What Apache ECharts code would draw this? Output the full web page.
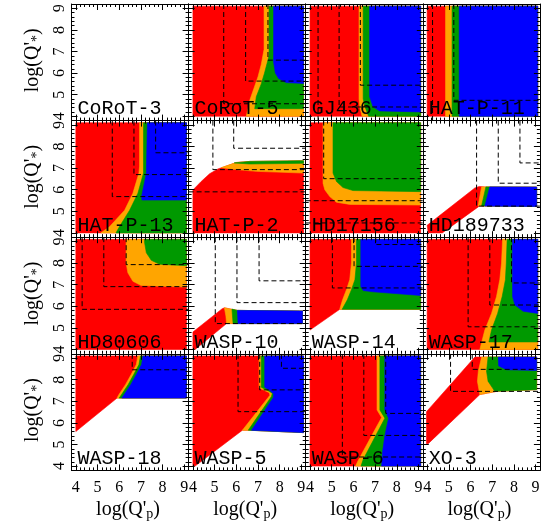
<!DOCTYPE html>
<html><head><meta charset="utf-8">
<script src="https://cdn.jsdelivr.net/npm/echarts@6/dist/echarts.min.js"></script>
<style>html,body{margin:0;padding:0;background:#fff}#c{width:552px;height:529px}</style>
</head><body><div id="c"></div>
<script>
// ---------------- data ----------------
const panelNames = ['CoRoT-3','CoRoT-5','GJ436','HAT-P-11','HAT-P-13','HAT-P-2','HD17156','HD189733',
                    'HD80606','WASP-10','WASP-14','WASP-17','WASP-18','WASP-5','WASP-6','XO-3'];
const axisTicks = [4, 5, 6, 7, 8, 9];
const xTitle = "log(Q'{s|p})";
const yTitle = "log(Q'{s|*})";

// outer boundary of every coloured area (log Q'p, log Q'*)
const redRegions = [
  [],
  [[4,4],[4,9.1],[9.1,9.1],[9.1,4]],
  [[4,4],[4,9.1],[9.1,9.1],[9.1,4]],
  [[4,4],[4,9.1],[9.1,9.1],[9.1,4]],
  [[4,4],[4,9.1],[9.1,9.1],[9.1,4]],
  [[4,4],[4,5.99],[4.38,6.38],[4.77,6.74],[5.15,6.96],[5.38,7.04],[5.69,7.15],[6.0,7.26],[6.62,7.31],[9.1,7.34],[9.1,4]],
  [[4,4],[4,9.1],[9.1,9.1],[9.1,4]],
  [[4.05,4],[4.7,4],[6.42,5.25],[9.05,5.22],[9.05,6.12],[6.65,6.13],[6.4,6.15],[6.2,6.08],[4.0,4.35]],
  [[4,4],[4,9.1],[9.1,9.1],[9.1,4]],
  [[4,4],[4.1,4],[5.55,5.2],[9.05,5.2],[9.05,5.78],[6.05,5.81],[5.6,5.9],[5.46,5.93],[5.35,5.89],[4,4.81]],
  [[4,9.1],[9.1,9.1],[9.1,5.86],[5.37,5.86],[4,4.9]],
  [[4,4],[4,9.1],[9.1,9.1],[9.1,4]],
  [[4,9.1],[9.1,9.1],[9.1,7.15],[5.9,7.15],[4,5.6]],
  [[4,9.1],[9.1,9.1],[9.1,5.55],[6.6,5.66],[6.28,5.66],[4.1,4],[4,4]],
  [[4,4],[4,9.1],[9.1,9.1],[9.1,4]],
  [[3.97,6.52],[6.2,9.05],[9.05,9.05],[9.05,7.54],[7.2,7.46],[6.43,7.31],[4.05,5.04],[3.97,5.04]]
];
// orange + green + blue together
const orangeRegions = [
  [],
  [[7.28,9.1],[7.28,7.1],[7.15,6.4],[7.0,5.83],[6.62,4.74],[6.46,4],[9.1,4],[9.1,9.1]],
  [[6.26,9.1],[6.26,4.8],[6.3,4.4],[6.4,4],[9.1,4],[9.1,9.1]],
  [[4.85,9.1],[4.85,4],[9.1,4],[9.1,9.1]],
  [[6.94,9.1],[6.94,7.09],[6.91,6.77],[6.63,5.83],[6.25,5.05],[5.54,4.27],[5.15,4],[9.1,4],[9.1,9.1]],
  [[5.3,7.02],[5.69,7.15],[6.0,7.26],[6.62,7.31],[9.1,7.34],[9.1,6.77],[6.92,6.85],[6.0,6.93]],
  [[4.6,9.1],[4.6,6.3],[4.68,6.0],[4.91,5.68],[5.22,5.42],[5.83,5.32],[9.1,5.29],[9.1,9.1]],
  [[6.51,6.13],[6.35,5.25],[9.05,5.22],[9.05,6.12]],
  [[6.32,9.1],[6.32,8.0],[6.4,7.55],[6.63,7.16],[7.01,6.96],[9.1,6.89],[9.1,9.1]],
  [[5.45,5.93],[5.6,5.9],[6.05,5.81],[9.05,5.78],[9.05,5.2],[5.55,5.2],[5.52,5.55]],
  [[5.91,9.1],[5.91,8.0],[5.83,7.23],[5.68,6.77],[5.5,6.3],[5.37,5.86],[9.1,5.86],[9.1,9.1]],
  [[7.48,9.1],[7.43,8.0],[7.35,7.23],[7.2,6.45],[6.97,5.67],[6.66,4.9],[6.43,4],[9.1,4],[9.1,9.1]],
  [[6.86,9.1],[6.79,8.7],[6.55,8.24],[6.29,7.77],[5.98,7.3],[5.9,7.15],[9.1,7.15],[9.1,9.1]],
  [[7.05,9.1],[7.05,7.62],[7.3,7.5],[7.52,7.4],[7.55,7.28],[6.28,5.66],[6.6,5.66],[9.1,5.55],[9.1,9.1]],
  [[7.09,9.1],[7.09,6.6],[7.3,6.25],[6.22,4.26],[6.1,4],[9.1,4],[9.1,9.1]],
  [[6.51,9.05],[6.36,8.39],[6.32,7.92],[6.43,7.31],[7.2,7.46],[9.05,7.54],[9.05,9.05]]
];
// green + blue together
const greenRegions = [
  [],
  [[7.51,9.1],[7.51,6.8],[7.3,6.0],[7.15,5.5],[6.92,4.9],[6.85,4.35],[9.1,4.35],[9.1,9.1]],
  [[6.45,9.1],[6.45,4.8],[6.55,4.4],[6.7,4],[9.1,4],[9.1,9.1]],
  [[5.15,9.1],[5.15,4],[9.1,4],[9.1,9.1]],
  [[7.12,9.1],[7.12,6.77],[6.86,5.83],[6.48,5.05],[6.0,4.27],[5.85,4],[9.1,4],[9.1,9.1]],
  [[5.9,7.24],[6.62,7.31],[9.1,7.34],[9.1,7.22],[6.6,7.19]],
  [[5.06,9.1],[5.06,6.77],[5.22,6.38],[5.52,6.1],[5.98,5.96],[9.1,5.91],[9.1,9.1]],
  [[6.71,6.13],[6.51,5.25],[9.05,5.22],[9.05,6.12]],
  [[7.17,9.1],[7.17,8.95],[7.25,8.48],[7.48,8.13],[7.86,7.95],[9.1,7.88],[9.1,9.1]],
  [[5.8,5.87],[6.05,5.81],[9.05,5.78],[9.05,5.2],[5.85,5.2]],
  [[6.14,9.1],[6.14,8.0],[6.07,7.23],[5.91,6.77],[5.72,6.3],[5.48,5.86],[9.1,5.86],[9.1,9.1]],
  [[7.69,9.1],[7.65,8.0],[7.61,7.23],[7.46,6.45],[7.25,5.67],[6.97,4.9],[6.85,4.35],[9.1,4.35],[9.1,9.1]],
  [[6.98,9.1],[6.91,8.7],[6.67,8.24],[6.41,7.77],[6.1,7.3],[6.0,7.15],[9.1,7.15],[9.1,9.1]],
  [[7.15,9.1],[7.15,7.65],[7.45,7.5],[7.66,7.37],[7.62,7.22],[6.55,5.66],[9.1,5.55],[9.1,9.1]],
  [[7.22,9.1],[7.22,6.6],[7.45,6.22],[6.45,4.3],[6.35,4],[9.1,4],[9.1,9.1]],
  [[6.81,9.05],[6.74,8.39],[6.81,7.93],[7.12,7.46],[9.05,7.54],[9.05,9.05]]
];
const blueRegions = [
  [],
  [[7.72,9.1],[7.72,6.5],[7.8,6.0],[7.95,5.75],[8.3,5.56],[9.1,5.52],[9.1,9.1]],
  [[6.75,9.1],[6.75,4.9],[6.9,4.45],[7.2,4.25],[9.1,4.2],[9.1,9.1]],
  [[5.48,9.1],[5.48,4],[9.1,4],[9.1,9.1]],
  [[7.3,9.1],[7.25,6.75],[7.03,5.68],[7.05,5.52],[9.1,5.52],[9.1,9.1]],
  [],
  [],
  [[6.89,6.13],[6.66,5.24],[9.05,5.22],[9.05,6.12]],
  [],
  [[6.05,5.81],[9.05,5.78],[9.05,5.2],[6.08,5.2]],
  [[6.34,9.1],[6.34,6.92],[6.45,6.73],[6.91,6.67],[9.1,6.5],[9.1,9.1]],
  [[7.94,9.1],[7.94,6.45],[8.05,6.06],[8.43,5.77],[9.1,5.67],[9.1,9.1]],
  [[7.1,9.1],[7.03,8.7],[6.79,8.24],[6.53,7.77],[6.22,7.3],[6.12,7.15],[9.1,7.15],[9.1,9.1]],
  [[7.31,9.1],[7.31,7.65],[7.55,7.5],[7.72,7.34],[7.7,7.17],[6.7,5.66],[9.1,5.55],[9.1,9.1]],
  [[7.45,9.1],[7.45,6.6],[7.62,6.22],[7.45,5.4],[7.35,4.7],[7.3,4],[9.1,4],[9.1,9.1]],
  [[7.28,9.05],[7.3,8.64],[7.66,8.46],[9.05,8.43],[9.05,9.05]]
];
// dashed L-shaped limits: [corner log Q'p, corner log Q'*]; null = beyond the axis
const dashedCorners = [
  [],
  [[5.42,4.58],[6.43,5.63],[7.46,6.6]],
  [[4.37,null],[5.34,4.43],[6.32,5.44]],
  [[4.25,null],[5.23,4.74]],
  [[5.68,5.68],[6.68,6.7],[7.68,7.71]],
  [[null,5.9],[4.92,6.93],[5.88,7.92]],
  [[null,4.46],[null,5.49],[4.63,6.51]],
  [[6.28,5.24],[7.28,6.3],[8.28,7.24]],
  [[4.29,5.86],[5.29,6.91],[6.32,7.93]],
  [[5.03,5.2],[6.03,6.17],[7.05,7.18]],
  [[5.03,6.85],[6.03,7.85],[7.03,8.86]],
  [[5.89,5.05],[6.89,6.06],[7.89,7.08]],
  [[6.6,8.46]],
  [[6.08,6.52],[7.08,7.53],[8.08,8.53]],
  [[5.49,4.42],[6.48,5.42],[7.49,6.44]],
  [[5.08,7.46],[6.08,8.48]]
];

// ---------------- layout & style ----------------
const COLORS = {red:'#ff0000', orange:'#ffa500', green:'#009900', blue:'#0000ff'};
const AX_MIN = 3.8, AX_MAX = 9.2;
const gridLeft = 71.5, gridTop = 4, cellW = 117.1, cellH = 116.6;
const SERIF = 'Liberation Serif';

const fmt = v => { const r = Math.round(v); return (Math.abs(v - r) < 1e-6 && axisTicks.indexOf(r) >= 0) ? String(r) : ''; };

const grids = [], xAxes = [], yAxes = [], series = [], graphics = [];
for (let p = 0; p < 16; p++) {
  const r = Math.floor(p / 4), c = p % 4;
  const L = gridLeft + c * cellW, T = gridTop + r * cellH;
  grids.push({left: L, top: T, width: cellW, height: cellH, show: false});
  ['bottom', 'top'].forEach(pos => {
    xAxes.push({gridIndex: p, type: 'value', position: pos, min: AX_MIN, max: AX_MAX, interval: 0.2, z: 5,
      axisLine: {show: true, onZero: false, lineStyle: {color: '#000', width: 1}},
      axisTick: {show: true, inside: true, length: 3, lineStyle: {color: '#000', width: 1}},
      splitLine: {show: false},
      axisLabel: {show: pos === 'bottom' && r === 3, formatter: fmt, margin: 9, color: '#000',
                  fontFamily: SERIF, fontSize: 16, showMinLabel: true, showMaxLabel: true}});
    xAxes.push({gridIndex: p, type: 'value', position: pos, min: AX_MIN, max: AX_MAX, z: 5,
      axisLine: {show: false, onZero: false},
      axisTick: {show: true, inside: true, length: 6, customValues: axisTicks, lineStyle: {color: '#000', width: 1}},
      splitLine: {show: false}, axisLabel: {show: false}});
  });
  ['left', 'right'].forEach(pos => {
    yAxes.push({gridIndex: p, type: 'value', position: pos, min: AX_MIN, max: AX_MAX, interval: 0.2, z: 5,
      axisLine: {show: true, onZero: false, lineStyle: {color: '#000', width: 1}},
      axisTick: {show: true, inside: true, length: 3, lineStyle: {color: '#000', width: 1}},
      splitLine: {show: false},
      axisLabel: {show: pos === 'left' && c === 0, formatter: fmt, margin: 4, rotate: 90, color: '#000',
                  fontFamily: SERIF, fontSize: 16, showMinLabel: true, showMaxLabel: true}});
    yAxes.push({gridIndex: p, type: 'value', position: pos, min: AX_MIN, max: AX_MAX, z: 5,
      axisLine: {show: false, onZero: false},
      axisTick: {show: true, inside: true, length: 6, customValues: axisTicks, lineStyle: {color: '#000', width: 1}},
      splitLine: {show: false}, axisLabel: {show: false}});
  });

  const shapes = [];
  [['red', redRegions], ['orange', orangeRegions], ['green', greenRegions], ['blue', blueRegions]].forEach(([k, arr]) => {
    if (arr[p].length) shapes.push({kind: 'poly', pts: arr[p], color: COLORS[k]});
  });
  dashedCorners[p].forEach(([xc, yc]) => {
    let pts;
    if (xc === null) pts = [[AX_MIN, yc], [AX_MAX, yc]];
    else if (yc === null) pts = [[xc, AX_MAX], [xc, AX_MIN]];
    else pts = [[xc, AX_MAX], [xc, yc], [AX_MAX, yc]];
    shapes.push({kind: 'dash', pts: pts});
  });
  series.push({
    type: 'custom', coordinateSystem: 'cartesian2d', xAxisIndex: 4 * p, yAxisIndex: 4 * p,
    clip: true, silent: true, z: 2,
    data: shapes.map((s, i) => [i]),
    renderItem: (params, api) => {
      const s = shapes[params.dataIndex];
      const pts = s.pts.map(q => api.coord(q));
      if (s.kind === 'poly') {
        return {type: 'polygon', shape: {points: pts}, style: {fill: s.color, stroke: s.color, lineWidth: 0.6}};
      }
      return {type: 'polyline', shape: {points: pts}, style: {stroke: '#000', fill: null, lineWidth: 1, lineDash: [5, 3]}, z2: 10};
    }
  });

  graphics.push({type: 'text', x: L + 6, y: T + cellH - 1.5, z: 20,
    style: {text: panelNames[p], align: 'left', verticalAlign: 'bottom', fill: '#000',
            fontFamily: 'Liberation Mono', fontSize: 20}});
}
for (let c = 0; c < 4; c++) {
  graphics.push({type: 'text', x: gridLeft + (c + 0.5) * cellW - 2, y: 510, z: 20,
    style: {text: xTitle, align: 'center', verticalAlign: 'middle', fill: '#000', fontFamily: SERIF, fontSize: 20,
            rich: {s: {fontFamily: SERIF, fontSize: 14, padding: [9, 0, 0, 0], fill: '#000'}}}});
}
for (let r = 0; r < 4; r++) {
  graphics.push({type: 'text', x: 33, y: gridTop + (r + 0.5) * cellH - 2, rotation: Math.PI / 2, z: 20,
    style: {text: yTitle, align: 'center', verticalAlign: 'middle', fill: '#000', fontFamily: SERIF, fontSize: 20,
            rich: {s: {fontFamily: SERIF, fontSize: 14, padding: [9, 0, 0, 0], fill: '#000'}}}});
}

const chart = echarts.init(document.getElementById('c'), null, {renderer: 'canvas'});
chart.setOption({
  animation: false,
  backgroundColor: '#fff',
  grid: grids, xAxis: xAxes, yAxis: yAxes, series: series, graphic: graphics
});
</script>
</body></html>
